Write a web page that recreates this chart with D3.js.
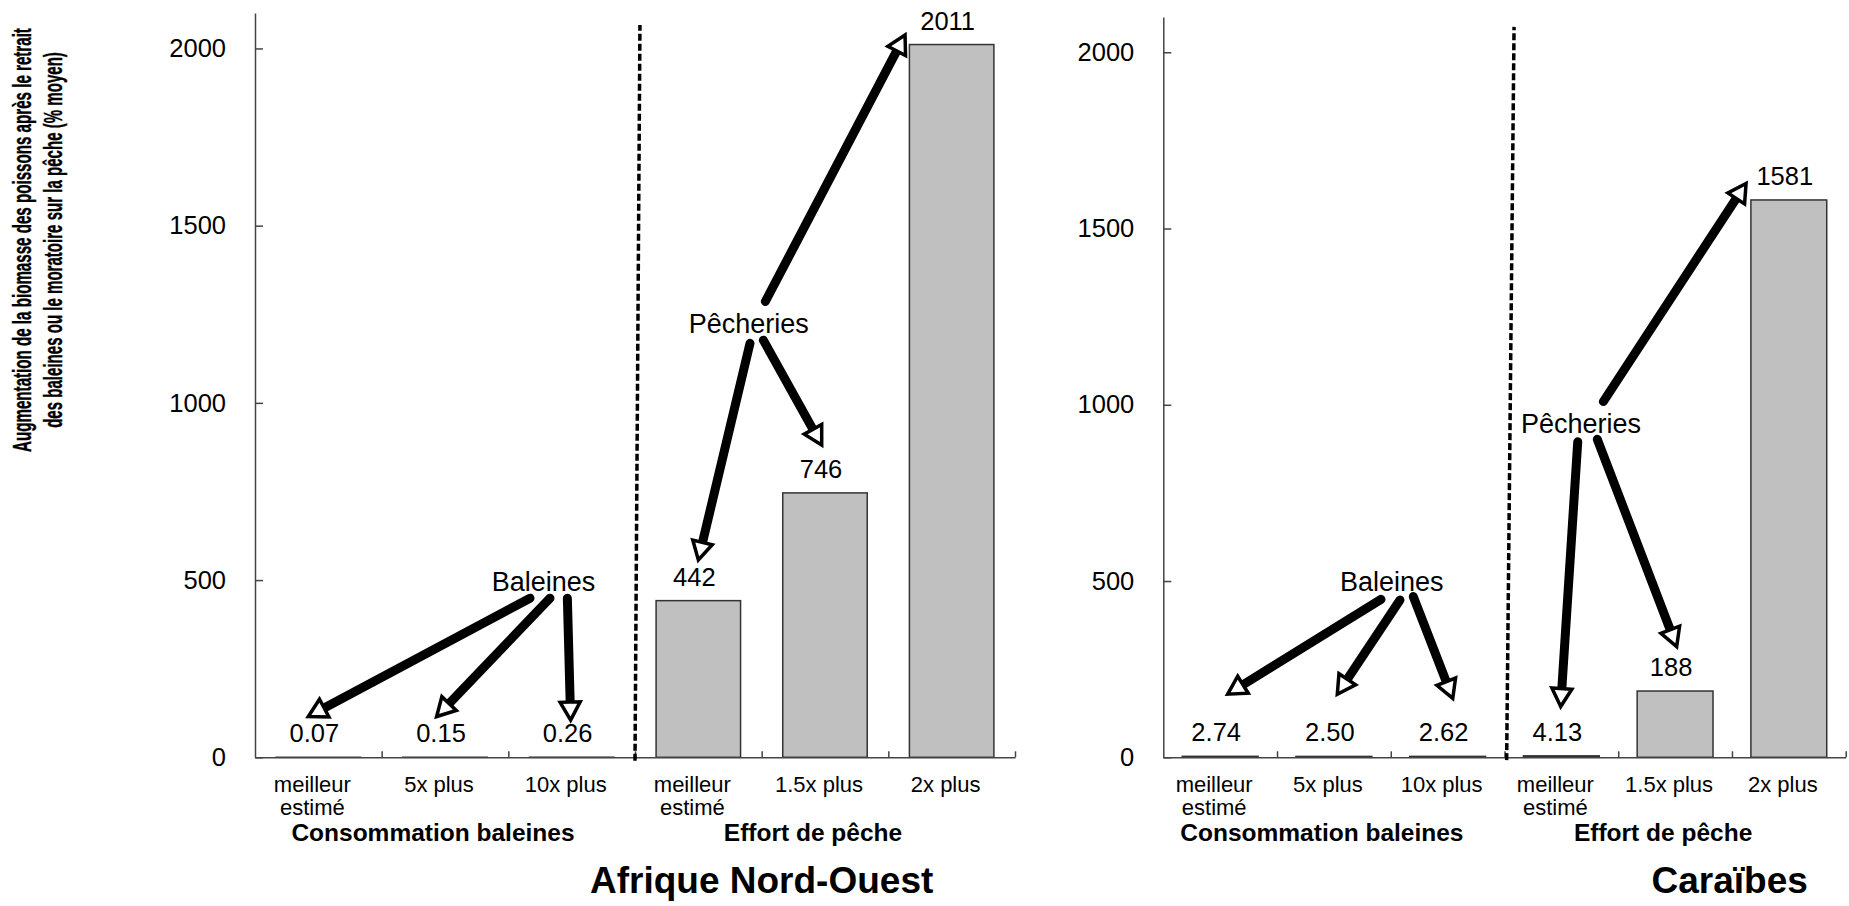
<!DOCTYPE html>
<html><head><meta charset="utf-8">
<script src="https://cdn.jsdelivr.net/npm/d3@7"></script>
<style>
body{margin:0;background:#fff}
text{font-family:"Liberation Sans",Arial,Helvetica,sans-serif;fill:#000}
</style>
</head><body>
<svg id="c" width="1849" height="906" xmlns="http://www.w3.org/2000/svg"></svg>
<script>
// ---------- data ----------
const categories = ["meilleur estimé", "5x plus", "10x plus", "meilleur estimé", "1.5x plus", "2x plus"];
const groupLabels = ["Consommation baleines", "Effort de pêche"];
const yTicks = [0, 500, 1000, 1500, 2000];
const valuesAfrique = [0.07, 0.15, 0.26, 442, 746, 2011];
const valuesCaraibes = [2.74, 2.50, 2.62, 4.13, 188, 1581];
const panelTitles = ["Afrique Nord-Ouest", "Caraïbes"];
const yTitleLines = ["Augmentation de la biomasse des poissons après le retrait",
                     "des baleines ou le moratoire sur la pêche (% moyen)"];
// annotations, in data units: [category position (0..6), value]
const labelsAfrique = [["Baleines", 2.278, 470], ["Pêcheries", 3.898, 1196]];
const arrowsAfrique = [
  [2.171, 449, 0.421, 115], [2.329, 449, 1.434, 115], [2.466, 449, 2.492, 105],
  [4.029, 1286, 5.132, 2038], [3.908, 1168, 3.500, 557], [4.013, 1177, 4.474, 881]
];
const labelsCaraibes = [["Baleines", 2.008, 473], ["Pêcheries", 3.673, 919]];
const arrowsCaraibes = [
  [1.914, 448, 0.566, 179], [2.081, 446, 1.530, 179], [2.198, 456, 2.545, 167],
  [3.869, 1009, 5.124, 1628], [3.644, 895, 3.494, 144], [3.816, 902, 4.514, 314]
];
const dashAfrique = [[3.0, -10], [3.039, 2066]];
const dashCaraibes = [[3.019, -8], [3.084, 2072]];

// ---------- layout ----------
const panels = [
  {values: valuesAfrique, title: panelTitles[0], titleAt: 4.0, labels: labelsAfrique, arrows: arrowsAfrique, dash: dashAfrique,
   x0: 255, x1: 1015, yBase: 757.3, yTop: 13},
  {values: valuesCaraibes, title: panelTitles[1], titleAt: 4.98, labels: labelsCaraibes, arrows: arrowsCaraibes, dash: dashCaraibes,
   x0: 1163.3, x1: 1845.7, yBase: 757.3, yTop: 17}
];
const yMax = 2100;
const svg = d3.select("#c");
const fmt = v => v < 10 ? v.toFixed(2) : d3.format("d")(v);

function drawArrow(g, xa, ya, xb, yb) {
  const dx = xb - xa, dy = yb - ya, len = Math.hypot(dx, dy), ux = dx / len, uy = dy / len;
  const L = 18, W = 10;
  const bx = xb - ux * L, by = yb - uy * L;
  g.append("line").attr("x1", xa).attr("y1", ya).attr("x2", bx).attr("y2", by)
    .attr("stroke", "#000").attr("stroke-width", 9).attr("stroke-linecap", "round");
  const pts = [[xb, yb], [bx - uy * W, by + ux * W], [bx + uy * W, by - ux * W]];
  g.append("polygon").attr("points", pts.map(p => p.join(",")).join(" "))
    .attr("fill", "#fff").attr("stroke", "#000").attr("stroke-width", 3.5).attr("stroke-linejoin", "miter");
}

panels.forEach(p => {
  const g = svg.append("g");
  const y = d3.scaleLinear().domain([0, yMax]).range([p.yBase, p.yTop]);
  const xb = d3.scaleBand().domain(d3.range(categories.length)).range([p.x0, p.x1])
    .paddingInner(0.333).paddingOuter(0.1667);
  const xl = d3.scaleLinear().domain([0, categories.length]).range([p.x0, p.x1]);

  // bars
  g.selectAll("rect.bar").data(p.values).join("rect").attr("class", "bar")
    .attr("x", (d, i) => xb(i)).attr("width", xb.bandwidth())
    .attr("y", d => y(d)).attr("height", d => y(0) - y(d))
    .attr("fill", "#c0c0c0").attr("stroke", "#333").attr("stroke-width", 1.5);

  // value labels
  g.selectAll("text.val").data(p.values).join("text").attr("class", "val")
    .attr("x", (d, i) => xb(i) + xb.bandwidth() / 2 - 4).attr("y", d => y(d) - 15)
    .attr("text-anchor", "middle").attr("font-size", 25.5).text(fmt);

  // y axis
  const ya = g.append("g").attr("transform", `translate(${p.x0},0)`)
    .call(d3.axisLeft(y).tickValues(yTicks).tickSizeInner(-8).tickSizeOuter(0).tickPadding(29).tickFormat(d3.format("d")));
  ya.selectAll("path,line").attr("stroke", "#444").attr("stroke-width", 1.5);
  ya.selectAll("text").attr("font-size", 25.5).attr("fill", "#000")
    .attr("font-family", '"Liberation Sans",Arial,sans-serif');

  // x axis
  const xa = g.append("g").attr("transform", `translate(0,${y(0)})`)
    .call(d3.axisBottom(xl).tickValues(d3.range(1, categories.length + 1)).tickSizeInner(-6).tickSizeOuter(0).tickFormat(""));
  xa.selectAll("path,line").attr("stroke", "#444").attr("stroke-width", 1.5);

  // category labels
  categories.forEach((c, i) => {
    const words = c === "meilleur estimé" ? ["meilleur", "estimé"] : [c];
    const t = g.append("text").attr("text-anchor", "middle").attr("font-size", 22);
    words.forEach((w, k) => {
      t.append("tspan").attr("x", xb(i) + xb.bandwidth() / 2 - 6).attr("y", 792 + k * 23).text(w);
    });
  });

  // group labels
  groupLabels.forEach((gl, k) => {
    g.append("text").attr("x", xl(1.5 + 3 * k) - 12).attr("y", 841)
      .attr("text-anchor", "middle").attr("font-size", 24.5).attr("font-weight", "bold").text(gl);
  });

  // panel title
  g.append("text").attr("x", xl(p.titleAt)).attr("y", 893).attr("text-anchor", "middle")
    .attr("font-size", 37).attr("font-weight", "bold").text(p.title);

  // dashed separator
  g.append("line").attr("x1", xl(p.dash[0][0])).attr("y1", y(p.dash[0][1]))
    .attr("x2", xl(p.dash[1][0])).attr("y2", y(p.dash[1][1]))
    .attr("stroke", "#000").attr("stroke-width", 3.5).attr("stroke-dasharray", "7,3");

  // annotations
  p.labels.forEach(l => {
    g.append("text").attr("x", xl(l[1])).attr("y", y(l[2])).attr("text-anchor", "middle")
      .attr("font-size", 27).text(l[0]);
  });
  p.arrows.forEach(a => drawArrow(g, xl(a[0]), y(a[1]), xl(a[2]), y(a[3])));
});

// y axis title (condensed horizontally via a scale transform)
const titleLens = [424, 376];
yTitleLines.forEach((line, k) => {
  const grp = svg.append("g");
  const t = grp.append("text").attr("x", 0).attr("y", 0).attr("text-anchor", "middle")
    .attr("font-size", 26).attr("font-weight", "bold")
    .attr("stroke", "#000").attr("stroke-width", 0.4)
    .style("font-family", '"Liberation Sans",Arial,sans-serif')
    .text(line);
  const natural = t.node().getComputedTextLength();
  const sx = titleLens[k] / natural;
  grp.attr("transform", `translate(${31 + k * 31},240) rotate(-90) scale(${sx},1)`);
});
</script>
</body></html>
